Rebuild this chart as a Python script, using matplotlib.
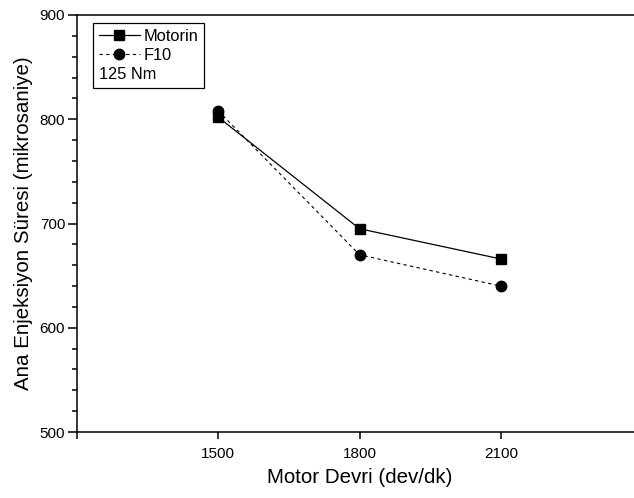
#!/usr/bin/env python

"""
Ana enjeksiyon suresi vs motor devri, Motorin ve F10, 125 Nm.
"""

import matplotlib
matplotlib.use('Agg')
import matplotlib.pyplot as plt
from matplotlib.ticker import MultipleLocator

# Data
RPM = [1500, 1800, 2100]
MOTORIN = [802, 695, 666]
F10 = [808, 670, 640]
XTICKS = [1200, 1500, 1800, 2100]
XTICKLABELS = ['', '1500', '1800', '2100']

plt.rcParams['font.family'] = ['Liberation Sans', 'DejaVu Sans']


def main():
    fig = plt.figure(figsize=(6.34, 4.98), dpi=100, facecolor='w')
    # axes run slightly past the right edge, like the original crop
    ax = fig.add_axes([77 / 634, 66 / 498, 565 / 634, 417 / 498])

    ax.plot(RPM, MOTORIN, color='k', lw=0.9, marker='s', ms=6.5,
            label='Motorin')
    ax.plot(RPM, F10, color='k', lw=0.8, ls=(0, (3, 3)), marker='o', ms=7.5,
            label='F10')

    ax.set_xlim(1200, 2400)
    ax.set_ylim(500, 900)
    ax.set_xticks(XTICKS)
    ax.set_xticklabels(XTICKLABELS)
    ax.yaxis.set_major_locator(MultipleLocator(100))
    ax.yaxis.set_minor_locator(MultipleLocator(20))
    ax.tick_params(axis='x', which='major', direction='out', length=5,
                   width=1.1, labelsize=11, pad=6)
    ax.tick_params(axis='y', which='major', direction='out', length=6.5,
                   width=1.1, labelsize=11, pad=2)
    ax.tick_params(axis='y', which='minor', direction='out', length=3.5,
                   width=1.1)
    for side in ['left', 'bottom', 'top']:
        ax.spines[side].set_linewidth(1.1)
    ax.spines['right'].set_visible(False)

    ax.set_xlabel('Motor Devri (dev/dk)', fontsize=14.8, labelpad=5)
    ax.set_ylabel('Ana Enjeksiyon Süresi (mikrosaniye)', fontsize=14.8,
                  labelpad=5)

    leg = ax.legend(loc='upper left', bbox_to_anchor=(0.028, 0.98),
                    title='125 Nm', alignment='left', fontsize=11.8,
                    title_fontsize=11.8, frameon=True, fancybox=False,
                    edgecolor='k', framealpha=1, handlelength=2.5,
                    handletextpad=0.25, borderpad=0.35, labelspacing=0.25,
                    borderaxespad=0)
    leg.get_frame().set_linewidth(0.9)
    # put the "125 Nm" line under the entries
    box = leg._legend_box
    box._children = [box._children[1], box._children[0]]

    fig.savefig('out.png', dpi=100)


if __name__ == "__main__":
    main()
